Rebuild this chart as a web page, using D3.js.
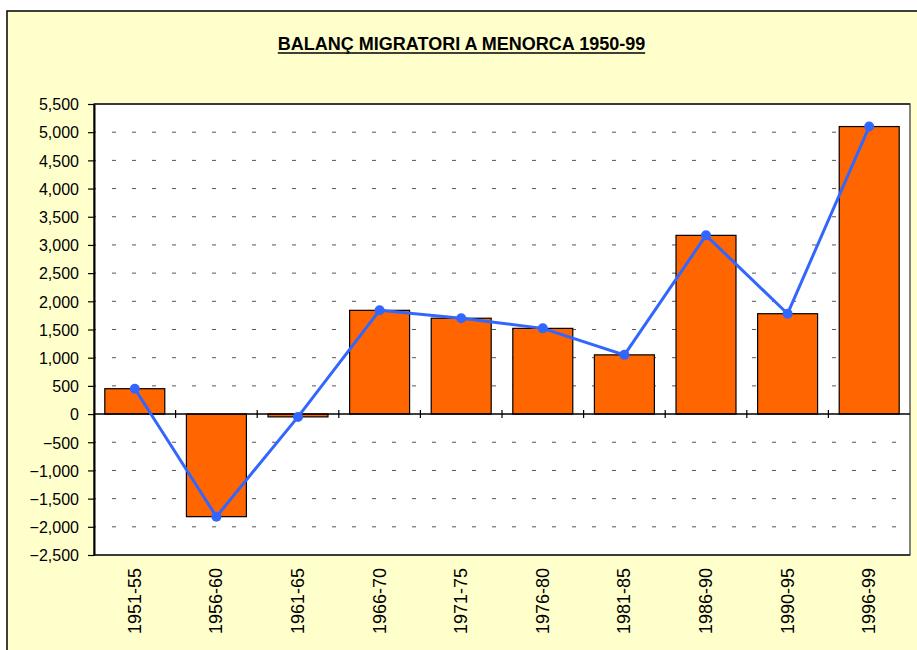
<!DOCTYPE html>
<html>
<head>
<meta charset="utf-8">
<script src="https://cdn.jsdelivr.net/npm/d3@7"></script>
<style>
html,body{margin:0;padding:0;background:#fff;}
svg{display:block;}
</style>
</head>
<body>
<svg id="chart" width="917" height="650"></svg>
<script>
const categories = ["1951-55","1956-60","1961-65","1966-70","1971-75","1976-80","1981-85","1986-90","1990-95","1996-99"];
const barValues  = [450, -1820, -50, 1840, 1700, 1520, 1050, 3170, 1780, 5100];
const lineValues = [450, -1820, -50, 1840, 1700, 1520, 1050, 3170, 1780, 5100];
const yTicks = [-2500,-2000,-1500,-1000,-500,0,500,1000,1500,2000,2500,3000,3500,4000,4500,5000,5500];
const titleText = "BALANÇ MIGRATORI A MENORCA 1950-99";

const svg = d3.select("#chart");
const W = 917, H = 650;
const plot = {left: 94, top: 104, right: 910, bottom: 555};

// chart area
svg.append("rect").attr("x", 7).attr("y", 11).attr("width", W + 20).attr("height", H + 20)
  .attr("fill", "#FFFFCC").attr("stroke", "#000").attr("stroke-width", 1.5);

// title
const title = svg.append("text").attr("x", 461.5).attr("y", 50)
  .attr("text-anchor", "middle")
  .attr("font-family", "Liberation Sans, Arial, sans-serif")
  .attr("font-weight", "bold").attr("font-size", 18)
  .attr("fill", "#000").text(titleText);
const tb = title.node().getBBox();
svg.append("line").attr("x1", tb.x).attr("x2", tb.x + tb.width)
  .attr("y1", 53).attr("y2", 53).attr("stroke", "#000").attr("stroke-width", 1.5);

const x = d3.scaleBand().domain(categories).range([plot.left, plot.right])
  .paddingInner(0.265).paddingOuter(0.1325);
const y = d3.scaleLinear().domain([-2500, 5500]).range([plot.bottom, plot.top]);

// plot area
svg.append("rect").attr("x", plot.left).attr("y", plot.top)
  .attr("width", plot.right - plot.left).attr("height", plot.bottom - plot.top)
  .attr("fill", "#fff").attr("stroke", "#444").attr("stroke-width", 1.3);

// gridlines
svg.append("g").selectAll("line").data(yTicks.filter(d => d !== 0 && d !== -2500 && d !== 5500)).join("line")
  .attr("x1", plot.left).attr("x2", plot.right)
  .attr("y1", d => y(d)).attr("y2", d => y(d))
  .attr("stroke", "#555").attr("stroke-width", 1)
  .attr("stroke-dasharray", "4,16").attr("stroke-dashoffset", -18);
svg.append("g").selectAll("line").data([-2500, 5500]).join("line")
  .attr("x1", plot.left).attr("x2", plot.right)
  .attr("y1", d => y(d)).attr("y2", d => y(d))
  .attr("stroke", "#222").attr("stroke-width", 1.3);

// bars
svg.append("g").selectAll("rect").data(barValues).join("rect")
  .attr("x", (d, i) => x(categories[i]))
  .attr("width", x.bandwidth())
  .attr("y", d => y(Math.max(0, d)))
  .attr("height", d => Math.abs(y(d) - y(0)))
  .attr("fill", "#FF6600").attr("stroke", "#000").attr("stroke-width", 1.2);

// zero line with category ticks
svg.append("line").attr("x1", plot.left).attr("x2", plot.right)
  .attr("y1", y(0)).attr("y2", y(0)).attr("stroke", "#000").attr("stroke-width", 1.5);
const step = x.step();
svg.append("g").selectAll("line").data(d3.range(1, categories.length)).join("line")
  .attr("x1", i => plot.left + i * step).attr("x2", i => plot.left + i * step)
  .attr("y1", y(0) - 4).attr("y2", y(0) + 4)
  .attr("stroke", "#000").attr("stroke-width", 1.2);

// y axis
const yAxis = d3.axisLeft(y).tickValues(yTicks).tickSize(6).tickSizeOuter(0)
  .tickFormat(d3.format(","));
const ya = svg.append("g").attr("transform", `translate(${plot.left},0)`).call(yAxis);
ya.select(".domain").attr("stroke", "#000").attr("stroke-width", 2);
ya.selectAll(".tick line").attr("stroke", "#000").attr("stroke-width", 1.2);
ya.selectAll(".tick text").attr("font-family", "Liberation Sans, Arial, sans-serif")
  .attr("font-size", 16).attr("fill", "#000").attr("x", -15).attr("dy", "0.36em");

// x labels
svg.append("g").selectAll("text").data(categories).join("text")
  .attr("transform", d => `translate(${x(d) + x.bandwidth() / 2 + 6},${plot.bottom + 13}) rotate(-90)`)
  .attr("text-anchor", "end")
  .attr("font-family", "Liberation Sans, Arial, sans-serif")
  .attr("font-size", 18).attr("fill", "#000").text(d => d);

// line series
const line = d3.line().x((d, i) => x(categories[i]) + x.bandwidth() / 2).y(d => y(d));
svg.append("path").datum(lineValues).attr("d", line)
  .attr("fill", "none").attr("stroke", "#3366FF").attr("stroke-width", 3);
svg.append("g").selectAll("circle").data(lineValues).join("circle")
  .attr("cx", (d, i) => x(categories[i]) + x.bandwidth() / 2)
  .attr("cy", d => y(d)).attr("r", 5)
  .attr("fill", "#3366FF");
</script>
</body>
</html>
